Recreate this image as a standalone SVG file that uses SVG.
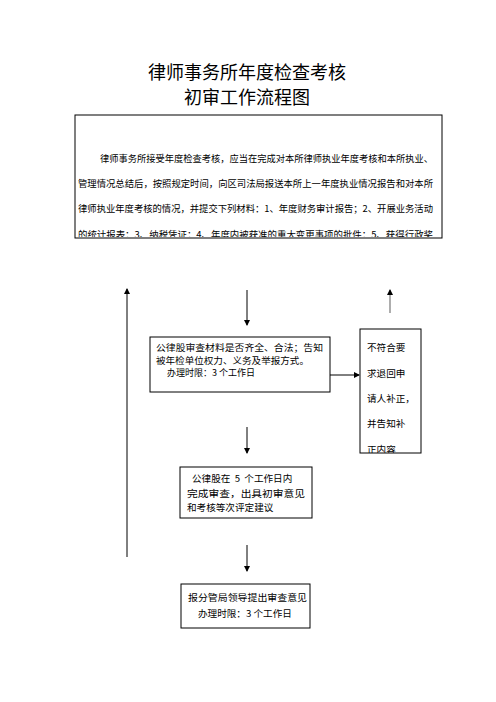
<svg xmlns="http://www.w3.org/2000/svg" width="496" height="702" viewBox="0 0 496 702">
<style>
text{font-family:"Noto Sans CJK SC","Liberation Sans",sans-serif;fill:#000}
.t{font-size:18px}
.s{font-size:9.6px}
.m{font-size:9px}
.b{fill:#fff;stroke:#000;stroke-width:1}
.c{stroke:#000;stroke-width:1;fill:none}
</style>
<defs>
<marker id="ah" markerWidth="6" markerHeight="6" refX="5" refY="3" orient="auto" markerUnits="userSpaceOnUse"><path d="M0,0 L6,3 L0,6 Z" fill="#000"/></marker>
<clipPath id="c1"><rect x="75" y="115" width="367" height="122"/></clipPath>
<clipPath id="c2"><rect x="360" y="329" width="61" height="124"/></clipPath>
</defs>
<g id="title">
<text class="t" x="247" y="79" text-anchor="middle">律师事务所年度检查考核</text>
<text class="t" x="247" y="104" text-anchor="middle">初审工作流程图</text>
</g>
<g id="intro">
<rect class="b" x="75" y="115" width="367" height="123"/>
<g clip-path="url(#c1)">
<text class="s" x="100" y="161.5" textLength="333" lengthAdjust="spacingAndGlyphs">律师事务所接受年度检查考核，应当在完成对本所律师执业年度考核和本所执业、</text>
<text class="s" x="78" y="186.5" textLength="355" lengthAdjust="spacingAndGlyphs">管理情况总结后，按照规定时间，向区司法局报送本所上一年度执业情况报告和对本所</text>
<text class="s" x="78" y="211.5" textLength="355" lengthAdjust="spacingAndGlyphs">律师执业年度考核的情况，并提交下列材料：1、年度财务审计报告；2、开展业务活动</text>
<text class="s" x="78" y="237.5" textLength="355" lengthAdjust="spacingAndGlyphs">的统计报表；3、纳税凭证；4、年度内被获准的重大变更事项的批件；5、获得行政奖</text>
</g>
</g>
<g id="review">
<rect class="b" x="150" y="337" width="180" height="55"/>
<text class="m" x="156" y="351" textLength="167" lengthAdjust="spacingAndGlyphs">公律股审查材料是否齐全、合法；告知</text>
<text class="m" x="156" y="363.5" textLength="153" lengthAdjust="spacingAndGlyphs">被年检单位权力、义务及举报方式。</text>
<text class="m" x="167" y="376">办理时限：3 个工作日</text>
</g>
<g id="reject">
<rect class="b" x="360" y="329" width="61" height="124"/>
<g clip-path="url(#c2)">
<text class="s" x="367" y="350.5">不符合要</text>
<text class="s" x="367" y="376.5">求退回申</text>
<text class="s" x="367" y="401.5">请人补正，</text>
<text class="s" x="367" y="426.5">并告知补</text>
<text class="s" x="367" y="452.5">正内容</text>
</g>
</g>
<g id="opinion">
<rect class="b" x="180" y="467" width="132" height="51"/>
<text class="s" x="192" y="481.5" style="white-space:pre">公律股在  5  个工作日内</text>
<text class="s" x="187" y="496.5" textLength="118" lengthAdjust="spacingAndGlyphs">完成审查，出具初审意见</text>
<text class="s" x="187" y="510.5">和考核等次评定建议</text>
</g>
<g id="report">
<rect class="b" x="181" y="584" width="129" height="44"/>
<text class="s" x="188" y="600.5" textLength="119" lengthAdjust="spacingAndGlyphs">报分管局领导提出审查意见</text>
<text class="s" x="198" y="616.5">办理时限：3 个工作日</text>
</g>
<g id="connectors">
<line class="c" x1="247" y1="290" x2="247" y2="325" marker-end="url(#ah)"/>
<line class="c" x1="330" y1="375" x2="359" y2="375" marker-end="url(#ah)"/>
<line x1="390" y1="313" x2="390" y2="290" stroke="#777" stroke-width="1.2" marker-end="url(#ah)"/>
<line class="c" x1="247" y1="427" x2="247" y2="453" marker-end="url(#ah)"/>
<line class="c" x1="247" y1="545" x2="247" y2="571" marker-end="url(#ah)"/>
<line class="c" x1="127" y1="557" x2="127" y2="289" marker-end="url(#ah)"/>
</g>
</svg>
